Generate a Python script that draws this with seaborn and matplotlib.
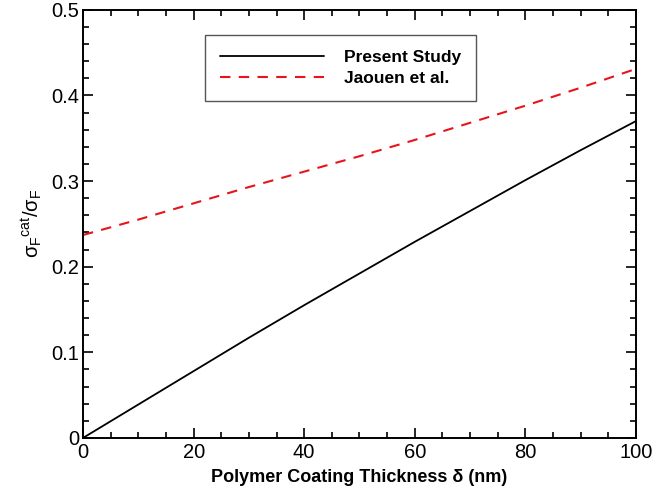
import matplotlib
matplotlib.use("Agg")
import matplotlib.pyplot as plt
import seaborn as sns
import pandas as pd
from matplotlib.ticker import MultipleLocator

# values
thickness = [0, 10, 20, 30, 40, 50, 60, 70, 80, 90, 100]
present_study = [0.0, 0.039, 0.078, 0.117, 0.155, 0.192, 0.229, 0.265, 0.301, 0.336, 0.370]
jaouen = [0.237, 0.255, 0.274, 0.293, 0.311, 0.329, 0.348, 0.368, 0.388, 0.409, 0.431]

sns.set_style("ticks")
plt.rcParams["font.family"] = ["Liberation Sans", "DejaVu Sans"]
plt.rcParams["mathtext.fontset"] = "custom"
plt.rcParams["mathtext.rm"] = "Liberation Sans"
plt.rcParams["mathtext.it"] = "Liberation Sans"
plt.rcParams["mathtext.bf"] = "Liberation Sans:bold"
plt.rcParams["text.color"] = "black"
plt.rcParams["axes.labelcolor"] = "black"
plt.rcParams["xtick.color"] = "black"
plt.rcParams["ytick.color"] = "black"
plt.rcParams["axes.edgecolor"] = "black"

fig = plt.figure(figsize=(6.7, 4.92), dpi=100)
ax = fig.add_axes([0.124, 0.110, 0.825, 0.870])

df_p = pd.DataFrame({"x": thickness, "y": present_study})
df_j = pd.DataFrame({"x": thickness, "y": jaouen})
sns.lineplot(data=df_p, x="x", y="y", ax=ax, color="black", lw=1.3, label="Present Study")
sns.lineplot(data=df_j, x="x", y="y", ax=ax, color="#e8141c", lw=1.5, label="Jaouen et al.")
ax.lines[1].set_dashes([5, 4])

ax.set_xlim(0, 100)
ax.set_ylim(0, 0.5)
ax.xaxis.set_minor_locator(MultipleLocator(5))
ax.yaxis.set_minor_locator(MultipleLocator(0.02))
ax.set_xticks([0, 20, 40, 60, 80, 100])
ax.set_xticklabels(["0", "20", "40", "60", "80", "100"])
ax.set_yticks([0, 0.1, 0.2, 0.3, 0.4, 0.5])
ax.set_yticklabels(["0", "0.1", "0.2", "0.3", "0.4", "0.5"])
ax.tick_params(which="both", direction="in", top=True, right=True, labelsize=14.5, width=1.2)
ax.tick_params(which="major", length=7, pad=3)
ax.tick_params(axis="x", which="major", pad=4)
ax.tick_params(which="minor", length=4)
for s in ax.spines.values():
    s.set_linewidth(1.4)

ax.set_xlabel("Polymer Coating Thickness δ (nm)", fontsize=13, fontweight="bold", labelpad=5)
ax.set_ylabel(r"$\sigma_F{}^{cat}/\sigma_F$", fontsize=14.5, labelpad=5)

leg = ax.legend(loc="upper left", bbox_to_anchor=(0.22, 0.942), handlelength=6.0,
                handletextpad=1.1, prop={"weight": "bold", "size": 12.5},
                fancybox=False, framealpha=1, edgecolor="#555555",
                borderpad=0.9, labelspacing=0.3, borderaxespad=0)
leg.get_frame().set_linewidth(1.0)

fig.savefig("out.png", dpi=100)
